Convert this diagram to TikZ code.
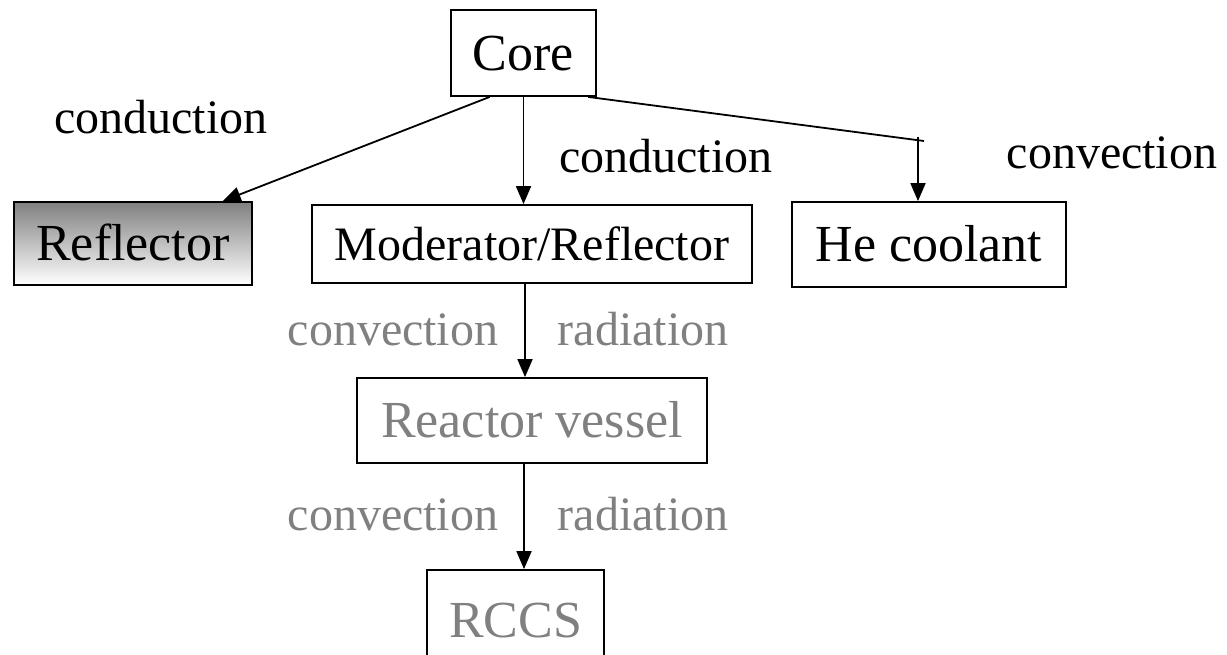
\documentclass[tikz,border=0pt]{standalone}
\usepackage{fontspec}
\setmainfont{Liberation Serif}
\usetikzlibrary{arrows.meta,calc}
\definecolor{lblgray}{RGB}{128,128,128}
\pgfdeclareverticalshading{reflshade}{100bp}{color(0bp)=(white); color(25bp)=(white); color(75bp)=(lblgray); color(100bp)=(lblgray)}
\begin{document}
\begin{tikzpicture}[x=1pt,y=-1pt,
  boxnode/.style={draw=black,line width=1.8pt,inner sep=0pt,text height=34pt,text depth=0pt,font=\fontsize{52}{60}\selectfont},
  lbl/.style={inner sep=0pt,text height=32.5pt,text depth=0pt,font=\fontsize{48}{56}\selectfont},
  arr/.style={line width=1.8pt,-{Triangle[length=18pt,width=15pt]}},
  ln/.style={line width=1.8pt}]
\useasboundingbox (0,0) rectangle (1227,654);
\node[boxnode,minimum width=145pt,minimum height=86pt] (core) at (523.5,53) {Core};
\node[boxnode,minimum width=238pt,minimum height=83pt,shading=reflshade] (refl) at (133,243.5) {Reflector};
\node[boxnode,minimum width=440pt,minimum height=78pt,text height=32pt,font=\fontsize{48}{56}\selectfont] (mod) at (532,244) {Moderator/Reflector};
\node[boxnode,minimum width=274pt,minimum height=85pt] (he) at (929,244.5) {He coolant};
\node[boxnode,minimum width=350pt,minimum height=85pt,text=lblgray] (rv) at (532,420.5) {Reactor vessel};
\node[boxnode,minimum width=177pt,minimum height=100pt,text=lblgray] (rccs) at (515.5,620) {RCCS};
\node[lbl] (l1) at (161,117) {conduction};
\node[lbl] (l2) at (666,156) {conduction};
\node[lbl] (l3) at (1112,152) {convection};
\node[lbl,text=lblgray] (l4) at (393,329) {convection};
\node[lbl,text=lblgray] (l5) at (643,329) {radiation};
\node[lbl,text=lblgray] (l6) at (393,514) {convection};
\node[lbl,text=lblgray] (l7) at (643,514) {radiation};
\coordinate (bend) at (924,141);
\coordinate (tick) at (918,137);
\coordinate (rvout) at ($(rv.south)+(-8,0)$);
\coordinate (modout) at ($(mod.south)+(-7,0)$);
\draw[arr] ($(core.south west)!0.27!(core.south east)$) -- ($(refl.north west)!0.874!(refl.north east)$);
\draw[arr] (core.south) -- (core.south |- mod.north);
\draw[ln] ($(core.south west)!0.94!(core.south east)$) -- (bend);
\draw[arr] (tick) -- (tick |- he.north);
\draw[arr] (modout) -- (modout |- rv.north);
\draw[arr] (rvout) -- (rvout |- rccs.north);
\end{tikzpicture}
\end{document}
